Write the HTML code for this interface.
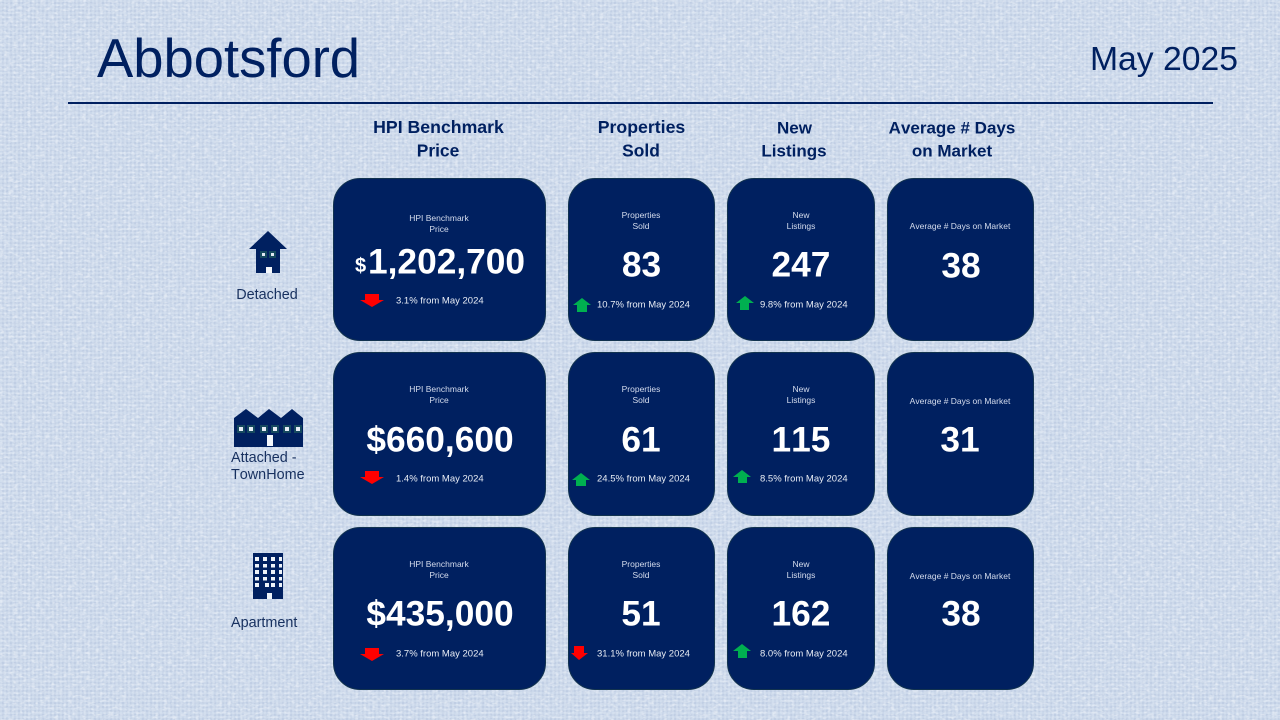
<!DOCTYPE html>
<html lang="en">
<head>
<meta charset="utf-8">
<title>Abbotsford May 2025</title>
<style>
html,body{margin:0;padding:0;width:1280px;height:720px;overflow:hidden}
#slide{position:relative;width:1280px;height:720px;background:#cad7ea;font-family:"Liberation Sans",sans-serif;color:#002060;overflow:hidden;font-kerning:none}
#slide>*{position:absolute}
.t{position:absolute;white-space:nowrap;line-height:1}
.c{transform:translate(-50%,-50%)}
.l{transform:translateY(-50%)}
.h{font-weight:bold;font-size:17.4px;color:#002060}
.card{box-sizing:border-box;background:#002060;border:1px solid #12334f;border-radius:27px}
.lab{font-size:8.5px;color:#d4dced}
.val{font-size:35.3px;font-weight:bold;color:#fff}
.note{font-size:9.5px;color:#e8edf5}
.cat{font-size:14.4px;color:#17305f}
</style>
</head>
<body>
<div id="slide">
<svg width="1280" height="720" style="left:0;top:0">
<defs>
<filter id="weaveLight" x="0" y="0" width="100%" height="100%">
<feTurbulence type="fractalNoise" baseFrequency="0.22 0.42" numOctaves="2" seed="4"/>
<feColorMatrix type="matrix" values="0 0 0 0 0.90  0 0 0 0 0.93  0 0 0 0 0.97  3 0 0 0 -1.4"/>
</filter>
<filter id="weaveDark" x="0" y="0" width="100%" height="100%">
<feTurbulence type="fractalNoise" baseFrequency="0.42 0.22" numOctaves="2" seed="11"/>
<feColorMatrix type="matrix" values="0 0 0 0 0.62  0 0 0 0 0.70  0 0 0 0 0.82  3 0 0 0 -1.4"/>
</filter>
<pattern id="threads" width="4" height="4" patternUnits="userSpaceOnUse">
<rect width="4" height="4" fill="#cad7ea"/>
<rect width="2" height="2" fill="#d2deee"/>
<rect x="2" y="2" width="2" height="2" fill="#c0cee4"/>
</pattern>
</defs>
<rect width="1280" height="720" fill="url(#threads)"/>
<rect width="1280" height="720" filter="url(#weaveDark)" opacity=".7"/>
<rect width="1280" height="720" filter="url(#weaveLight)" opacity=".55"/>
</svg>

<div class="t" style="left:97px;top:59px;font-size:54.4px;transform:translateY(-50%)">Abbotsford</div>
<div class="t" style="left:1090px;top:60px;font-size:33.7px;transform:translateY(-50%)">May 2025</div>
<div style="left:68px;top:102px;width:1145px;height:2px;background:#002060"></div>

<div class="t h c" style="left:438.500px;top:128px;font-size:17.7px">HPI Benchmark</div>
<div class="t h c" style="left:438px;top:151px">Price</div>
<div class="t h c" style="left:641.500px;top:128px;font-size:17.700px">Properties</div>
<div class="t h c" style="left:641px;top:151px">Sold</div>
<div class="t h c" style="left:794.500px;top:128px;font-size:17px">New</div>
<div class="t h c" style="left:794px;top:151px;font-size:17px">Listings</div>
<div class="t h c" style="left:952px;top:128px;font-size:17px">Average # Days</div>
<div class="t h c" style="left:952px;top:151px;font-size:17px">on Market</div>

<!-- Property-type icons -->
<svg width="1280" height="720" style="left:0;top:0">
<g>
<path d="M268 231L287 249H280V273H256V249H249Z" fill="#002060"/>
<rect x="260" y="251" width="7" height="7" fill="#15495f"/><rect x="269" y="251" width="7" height="7" fill="#15495f"/>
<rect x="262" y="253" width="3" height="3" fill="#dfe8f3"/><rect x="271" y="253" width="3" height="3" fill="#dfe8f3"/>
<rect x="266" y="267" width="6" height="6" fill="#f4f7fb"/>
</g>
<g>
<path d="M234 418L246 409L258 418L269 409L281 418L292 409L303 418V447H234Z" fill="#002060"/>
<g fill="#15495f"><rect x="237" y="425" width="8" height="8"/><rect x="247" y="425" width="8" height="8"/><rect x="260" y="425" width="8" height="8"/><rect x="271" y="425" width="8" height="8"/><rect x="283" y="425" width="8" height="8"/><rect x="294" y="425" width="8" height="8"/></g>
<g fill="#e6edf6"><rect x="239" y="427" width="4" height="4"/><rect x="249" y="427" width="4" height="4"/><rect x="262" y="427" width="4" height="4"/><rect x="273" y="427" width="4" height="4"/><rect x="285" y="427" width="4" height="4"/><rect x="296" y="427" width="4" height="4"/></g>
<rect x="267" y="435" width="6" height="11" fill="#f4f7fb"/>
</g>
<g>
<rect x="253" y="553" width="30" height="46" fill="#002060"/>
<g fill="#eef3f9">
<rect x="255" y="557" width="4" height="4"/><rect x="263" y="557" width="4" height="4"/><rect x="271" y="557" width="4" height="4"/><rect x="279" y="557" width="3" height="4"/>
<rect x="255" y="564" width="4" height="3.500"/><rect x="263" y="564" width="4" height="3.500"/><rect x="271" y="564" width="4" height="3.500"/><rect x="279" y="564" width="3" height="3.500"/>
<rect x="255" y="570" width="4" height="4"/><rect x="263" y="570" width="4" height="4"/><rect x="271" y="570" width="4" height="4"/><rect x="279" y="570" width="3" height="4"/>
<rect x="255" y="577" width="4" height="3.500"/><rect x="263" y="577" width="4" height="3.500"/><rect x="271" y="577" width="4" height="3.500"/><rect x="279" y="577" width="3" height="3.500"/>
<rect x="255" y="583" width="4" height="4"/><rect x="265" y="583" width="4" height="4"/><rect x="271" y="583" width="4" height="4"/><rect x="279" y="583" width="3" height="4"/>
<rect x="267" y="593" width="5" height="6"/>
</g>
</g>
</svg>

<div class="t cat c" style="left:267px;top:295px">Detached</div>
<div class="t cat l" style="left:231px;top:458px">Attached -</div>
<div class="t cat l" style="left:231px;top:475px">TownHome</div>
<div class="t cat l" style="left:231px;top:623px">Apartment</div>

<!-- Cards row 1 -->
<div class="card" style="left:333px;top:178px;width:213px;height:163px"></div>
<div class="card" style="left:568px;top:178px;width:147px;height:163px"></div>
<div class="card" style="left:727px;top:178px;width:148px;height:163px"></div>
<div class="card" style="left:887px;top:178px;width:147px;height:163px"></div>
<!-- Cards row 2 -->
<div class="card" style="left:333px;top:352px;width:213px;height:164px"></div>
<div class="card" style="left:568px;top:352px;width:147px;height:164px"></div>
<div class="card" style="left:727px;top:352px;width:148px;height:164px"></div>
<div class="card" style="left:887px;top:352px;width:147px;height:164px"></div>
<!-- Cards row 3 -->
<div class="card" style="left:333px;top:527px;width:213px;height:163px"></div>
<div class="card" style="left:568px;top:527px;width:147px;height:163px"></div>
<div class="card" style="left:727px;top:527px;width:148px;height:163px"></div>
<div class="card" style="left:887px;top:527px;width:147px;height:163px"></div>

<!-- Row 1 text -->
<div class="t lab c" style="left:439px;top:218px">HPI Benchmark</div>
<div class="t lab c" style="left:439px;top:229px">Price</div>
<div class="t l" style="left:355px;top:266px;font-size:20px;font-weight:bold;color:#fff">$</div>
<div class="t val l" style="left:368px;top:262px">1,202,700</div>
<div class="t note l" style="left:396px;top:301px">3.1% from May 2024</div>
<div class="t lab c" style="left:641px;top:215px">Properties</div>
<div class="t lab c" style="left:641px;top:226px">Sold</div>
<div class="t val c" style="left:641.500px;top:265px">83</div>
<div class="t note l" style="left:597px;top:304.500px">10.7% from May 2024</div>
<div class="t lab c" style="left:801px;top:215px">New</div>
<div class="t lab c" style="left:801px;top:226px">Listings</div>
<div class="t val c" style="left:801px;top:265px">247</div>
<div class="t note l" style="left:760px;top:304.500px">9.8% from May 2024</div>
<div class="t lab c" style="left:960px;top:226px">Average # Days on Market</div>
<div class="t val c" style="left:961px;top:266px">38</div>

<!-- Row 2 text -->
<div class="t lab c" style="left:439px;top:389px">HPI Benchmark</div>
<div class="t lab c" style="left:439px;top:400px">Price</div>
<div class="t val c" style="left:440px;top:440px">$660,600</div>
<div class="t note l" style="left:396px;top:478.500px">1.4% from May 2024</div>
<div class="t lab c" style="left:641px;top:389px">Properties</div>
<div class="t lab c" style="left:641px;top:400px">Sold</div>
<div class="t val c" style="left:641px;top:440px">61</div>
<div class="t note l" style="left:597px;top:478.500px">24.5% from May 2024</div>
<div class="t lab c" style="left:801px;top:389px">New</div>
<div class="t lab c" style="left:801px;top:400px">Listings</div>
<div class="t val c" style="left:801px;top:440px">115</div>
<div class="t note l" style="left:760px;top:478.500px">8.5% from May 2024</div>
<div class="t lab c" style="left:960px;top:401px">Average # Days on Market</div>
<div class="t val c" style="left:960px;top:440px">31</div>

<!-- Row 3 text -->
<div class="t lab c" style="left:439px;top:564px">HPI Benchmark</div>
<div class="t lab c" style="left:439px;top:575px">Price</div>
<div class="t val c" style="left:440px;top:614px">$435,000</div>
<div class="t note l" style="left:396px;top:653.500px">3.7% from May 2024</div>
<div class="t lab c" style="left:641px;top:564px">Properties</div>
<div class="t lab c" style="left:641px;top:575px">Sold</div>
<div class="t val c" style="left:641px;top:614px">51</div>
<div class="t note l" style="left:597px;top:653.500px">31.1% from May 2024</div>
<div class="t lab c" style="left:801px;top:564px">New</div>
<div class="t lab c" style="left:801px;top:575px">Listings</div>
<div class="t val c" style="left:801px;top:614px">162</div>
<div class="t note l" style="left:760px;top:653.500px">8.0% from May 2024</div>
<div class="t lab c" style="left:960px;top:576px">Average # Days on Market</div>
<div class="t val c" style="left:961px;top:614px">38</div>

<!-- Trend arrows -->
<svg width="1280" height="720" style="left:0;top:0">
<path d="M365 294H379V300H384L372 307L360 300H365Z" fill="#ff0000"/>
<path d="M365 471H379V477H384L372 484L360 477H365Z" fill="#ff0000"/>
<path d="M365 648H379V654H384L372 661L360 654H365Z" fill="#ff0000"/>
<path d="M574 646H584V653H588L579 660L571 653H574Z" fill="#ff0000"/>
<path d="M582 298L591 305H587V312H577V305H573Z" fill="#00b050"/>
<path d="M581 473L590 480H586V486H576V480H572Z" fill="#00b050"/>
<path d="M745 296L754 303H749V310H740V303H736Z" fill="#00b050"/>
<path d="M742 470L751 477H747V483H738V477H733Z" fill="#00b050"/>
<path d="M742 644L751 651H747V658H738V651H733Z" fill="#00b050"/>
</svg>
</div>
</body>
</html>
